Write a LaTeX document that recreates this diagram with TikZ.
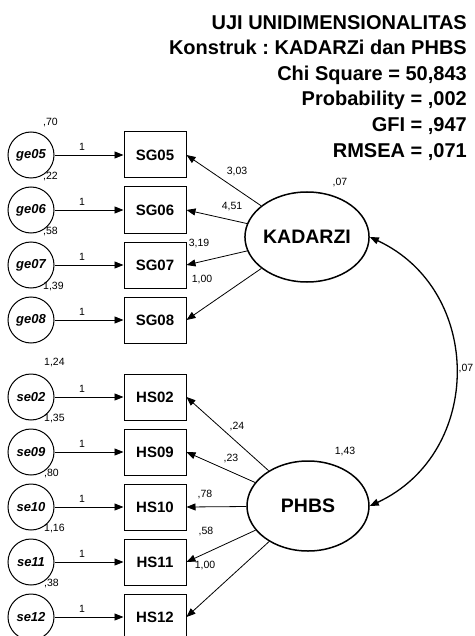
\documentclass[tikz,border=0pt]{standalone}
\usepackage{fontspec}
\setmainfont{Liberation Sans}
\usetikzlibrary{arrows.meta,shapes.geometric}
\frenchspacing

\begin{document}
\begin{tikzpicture}[x=1pt,y=-1pt,
  every node/.style={font=\fontsize{10.5}{12}\selectfont},
  err/.style={draw,circle,line width=1pt,minimum size=46pt,inner sep=0pt,font=\fontsize{13}{15}\selectfont\bfseries\itshape},
  obs/.style={draw,rectangle,line width=1pt,minimum width=62pt,minimum height=46pt,inner sep=0pt,font=\fontsize{15}{17}\selectfont\bfseries},
  lat/.style={draw,ellipse,line width=1.5pt,minimum width=122pt,minimum height=90pt,inner sep=0pt,font=\fontsize{19.5}{22}\selectfont\bfseries},
  reg/.style={-{Triangle[length=9pt,width=7pt]},line width=0.8pt},
  var/.style={anchor=west,inner sep=0pt}]
  \useasboundingbox (0,0) rectangle (474,636);
  % fit statistics
  \node[anchor=north east,align=right,inner sep=0pt,font=\fontsize{20}{25.6}\selectfont\bfseries] (title) at (467,15)
    {UJI UNIDIMENSIONALITAS\\Konstruk : KADARZi dan PHBS\\Chi Square = 50,843\\Probability = ,002\\GFI = ,947\\RMSEA = ,071};
  % latent constructs
  \node[lat] (kad) at (307,237) {KADARZI};
  \node[lat] (phbs) at (308,506) {PHBS};
  \node (vkad) at (340,183) {,07};
  \node (vphbs) at (345,452) {1,43};
  \draw[{Triangle[length=9pt,width=7pt]}-{Triangle[length=9pt,width=7pt]},line width=1.3pt] (kad.east) to[bend left=65,looseness=1.2] (phbs.east);
  \node (cov) at (466,369) {,07};
  % KADARZI indicators
  \node[obs] (sg05) at (155,155) {SG05};
  \node[obs] (sg06) at (155,210) {SG06};
  \node[obs] (sg07) at (155,265) {SG07};
  \node[obs] (sg08) at (155,320) {SG08};
  \node[err] (ge05) at (31,155) {ge05};
  \node[err] (ge06) at (31,210) {ge06};
  \node[err] (ge07) at (31,265) {ge07};
  \node[err] (ge08) at (31,320) {ge08};
  \draw[reg] (ge05) -- (sg05) node[pos=0.4,above=4.5pt,inner sep=0pt] (w05) {1};
  \draw[reg] (ge06) -- (sg06) node[pos=0.4,above=4.5pt,inner sep=0pt] (w06) {1};
  \draw[reg] (ge07) -- (sg07) node[pos=0.4,above=4.5pt,inner sep=0pt] (w07) {1};
  \draw[reg] (ge08) -- (sg08) node[pos=0.4,above=4.5pt,inner sep=0pt] (w08) {1};
  \node[var] (v05) at (43,123) {,70};
  \node[var] (v06) at (43,177) {,22};
  \node[var] (v07) at (43,232) {,58};
  \node[var] (v08) at (43,287) {1,39};
  \draw[reg] (kad) -- (sg05.east);
  \draw[reg] (kad) -- (sg06.east);
  \draw[reg] (kad) -- (sg07.east);
  \draw[reg] (kad) -- (sg08.east);
  \node (l05) at (237,172) {3,03};
  \node (l06) at (232,207) {4,51};
  \node (l07) at (199,244) {3,19};
  \node (l08) at (202,280) {1,00};
  % PHBS indicators
  \node[obs] (hs02) at (155,397) {HS02};
  \node[obs] (hs09) at (155,452) {HS09};
  \node[obs] (hs10) at (155,507) {HS10};
  \node[obs] (hs11) at (155,562) {HS11};
  \node[obs] (hs12) at (155,617) {HS12};
  \node[err] (se02) at (31,397) {se02};
  \node[err] (se09) at (31,452) {se09};
  \node[err] (se10) at (31,507) {se10};
  \node[err] (se11) at (31,562) {se11};
  \node[err] (se12) at (31,617) {se12};
  \draw[reg] (se02) -- (hs02) node[pos=0.4,above=4.5pt,inner sep=0pt] (w02) {1};
  \draw[reg] (se09) -- (hs09) node[pos=0.4,above=4.5pt,inner sep=0pt] (w09) {1};
  \draw[reg] (se10) -- (hs10) node[pos=0.4,above=4.5pt,inner sep=0pt] (w10) {1};
  \draw[reg] (se11) -- (hs11) node[pos=0.4,above=4.5pt,inner sep=0pt] (w11) {1};
  \draw[reg] (se12) -- (hs12) node[pos=0.4,above=4.5pt,inner sep=0pt] (w12) {1};
  \node[var] (v02) at (44,363) {1,24};
  \node[var] (v09) at (44,419) {1,35};
  \node[var] (v10) at (44,474) {,80};
  \node[var] (v11) at (44,528) {1,16};
  \node[var] (v12) at (44,583) {,38};
  \draw[reg] (phbs) -- (hs02.east);
  \draw[reg] (phbs) -- (hs09.east);
  \draw[reg] (phbs) -- (hs10.east);
  \draw[reg] (phbs) -- (hs11.east);
  \draw[reg] (phbs) -- (hs12.east);
  \node (l02) at (237,427) {,24};
  \node (l09) at (231,459) {,23};
  \node (l10) at (205,495) {,78};
  \node (l11) at (206,531) {,58};
  \node (l12) at (205,565) {1,00};
\end{tikzpicture}
\end{document}
